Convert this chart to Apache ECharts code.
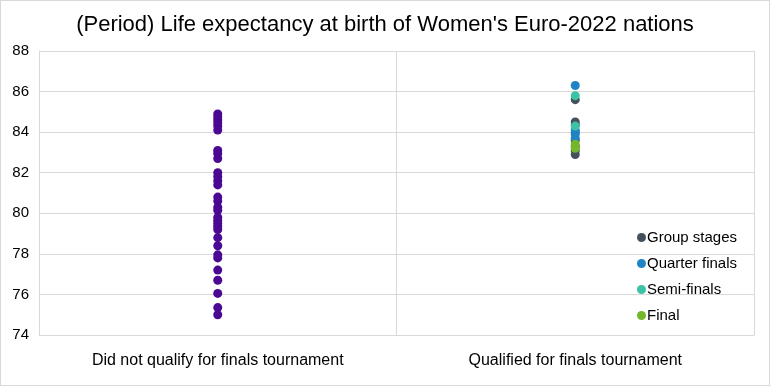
<!DOCTYPE html>
<html>
<head>
<meta charset="utf-8">
<script src="https://cdn.jsdelivr.net/npm/echarts@6/dist/echarts.min.js"></script>
<style>
html,body{margin:0;padding:0;background:#fff;}
#c{width:770px;height:386px;box-sizing:border-box;border:1px solid #d9d9d9;}
</style>
</head>
<body>
<div id="c"></div>
<script>
const categories = ["Did not qualify for finals tournament", "Qualified for finals tournament"];
const yTicks = [74, 76, 78, 80, 82, 84, 86, 88];
const notQualified = [84.9, 84.75, 84.6, 84.45, 84.3, 84.1, 83.1, 82.95, 82.7, 82.0, 81.8, 81.6, 81.4, 80.8, 80.6, 80.3, 80.15, 79.8, 79.65, 79.5, 79.35, 79.2, 78.8, 78.4, 77.95, 77.8, 77.2, 76.7, 76.05, 75.35, 75.0];
const groupStages = [85.6, 84.5, 84.35, 84.0, 83.6, 83.3, 83.1, 82.9];
const quarterFinals = [86.3, 84.1, 83.9, 83.7];
const semiFinals = [85.8, 84.3];
const finalists = [83.4, 83.2];

const chart = echarts.init(document.getElementById('c'));
const font = 'Liberation Sans, Arial, sans-serif';
function pts(arr, idx){ return arr.map(v => [idx, v]); }
function ser(name, arr, idx, color){
  return {name, type:'scatter', data: pts(arr, idx), symbolSize: 9, itemStyle:{color, opacity:1}};
}
chart.setOption({
  animation:false,
  title:{text:"(Period) Life expectancy at birth of Women's Euro-2022 nations", left:'center', top:8,
    textStyle:{fontFamily:font, fontSize:22, fontWeight:'normal', color:'#000'}},
  grid:{left:38, right:15, top:50, bottom:50},
  legend:{orient:'vertical', left:631, top:224, itemGap:11, itemWidth:9, itemHeight:9, icon:'circle',
    data:['Group stages','Quarter finals','Semi-finals','Final'],
    textStyle:{fontFamily:font, fontSize:15, color:'#000', padding:[0,0,0,-4]}},
  xAxis:{type:'category', data:categories, boundaryGap:true,
    axisLine:{show:true, lineStyle:{color:'#d9d9d9'}}, axisTick:{show:false},
    splitLine:{show:true, lineStyle:{color:'#d9d9d9'}},
    axisLabel:{fontFamily:font, fontSize:16, color:'#000', margin:18}},
  yAxis:{type:'value', min:74, max:88, interval:2,
    axisLine:{show:true, lineStyle:{color:'#d9d9d9'}}, axisTick:{show:false},
    splitLine:{lineStyle:{color:'#d9d9d9'}},
    axisLabel:{fontFamily:font, fontSize:15, color:'#000', margin:10}},
  series:[
    {name:'Did not qualify', type:'scatter', data:pts(notQualified,0), symbolSize:9, itemStyle:{color:'#4b0892', opacity:1}},
    ser('Group stages', groupStages, 1, '#44515c'),
    ser('Quarter finals', quarterFinals, 1, '#1f84c6'),
    ser('Semi-finals', semiFinals, 1, '#3cc3a6'),
    ser('Final', finalists, 1, '#74b72a')
  ]
});
</script>
</body>
</html>
